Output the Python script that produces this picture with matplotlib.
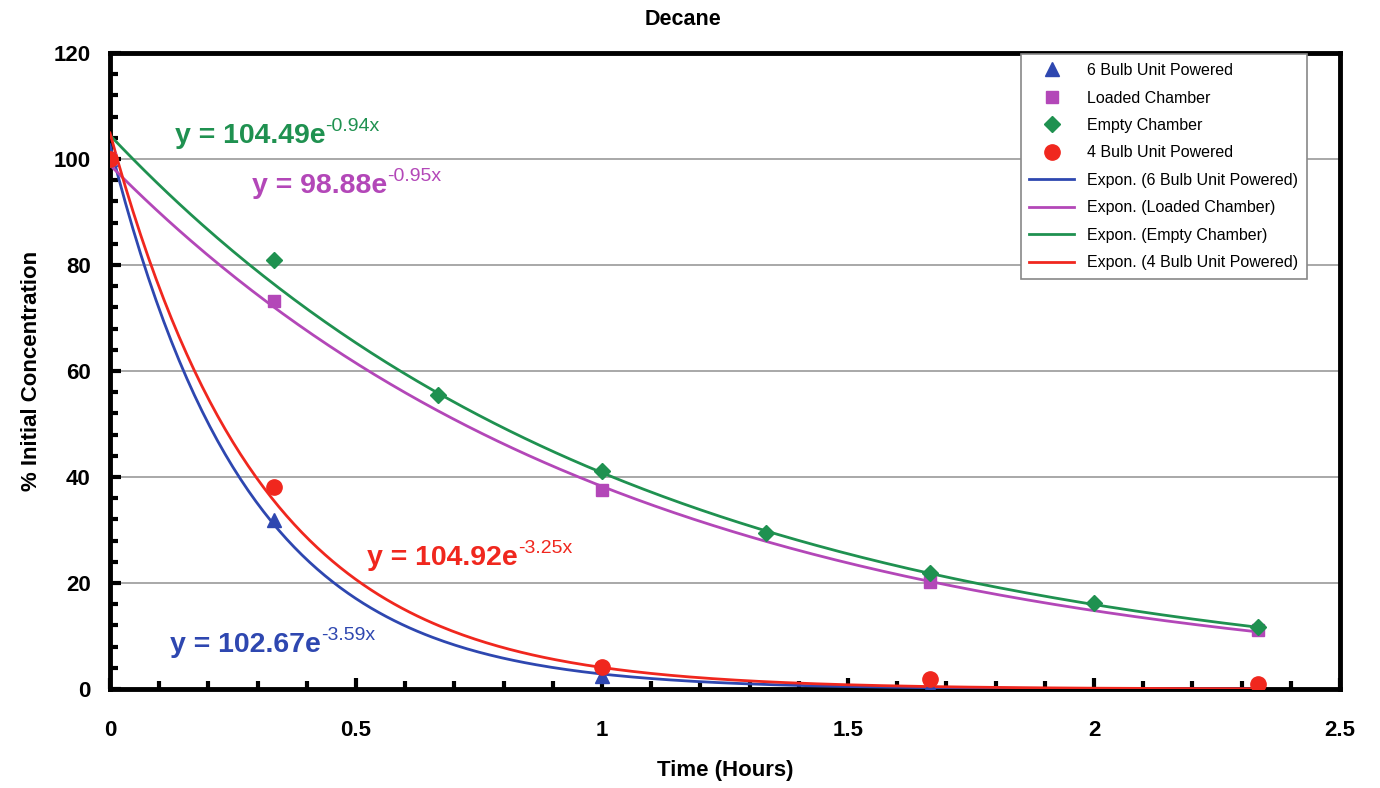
import numpy as np
import matplotlib
matplotlib.use('Agg')
import matplotlib.pyplot as plt
from matplotlib.ticker import MultipleLocator

plt.rcParams['font.family'] = ['Liberation Sans', 'DejaVu Sans']

# measured points (hours, % initial concentration)
bulb6_t = [0, 1/3, 1, 5/3, 7/3]
bulb6_c = [100, 31.9, 2.4, 0.3, 0.8]

loaded_t = [0, 1/3, 1, 5/3, 7/3]
loaded_c = [100, 73.2, 37.5, 20.2, 11.1]

empty_t = [0, 1/3, 2/3, 1, 4/3, 5/3, 2, 7/3]
empty_c = [100, 81.0, 55.5, 41.1, 29.4, 21.9, 16.2, 11.7]

bulb4_t = [0, 1/3, 1, 5/3, 7/3]
bulb4_c = [100, 38.1, 4.2, 1.9, 0.9]

# exponential trendline coefficients y = a * exp(b * x)
fit_a = [102.67, 98.88, 104.49, 104.92]
fit_b = [-3.59, -0.95, -0.94, -3.25]

BLUE   = '#2e47b0'
PURPLE = '#b347b8'
GREEN  = '#1f9150'
RED    = '#f0271e'

fig = plt.figure(figsize=(13.8, 7.88), dpi=100)
ax = fig.add_axes([0.0797, 0.1256, 0.8913, 0.8071])

ax.plot(bulb6_t, bulb6_c, '^', color=BLUE, ms=10, zorder=4, label='6 Bulb Unit Powered')
ax.plot(loaded_t, loaded_c, 's', color=PURPLE, ms=9, zorder=4, label='Loaded Chamber')
ax.plot(empty_t, empty_c, 'D', color=GREEN, ms=8, zorder=4, label='Empty Chamber')
ax.plot(bulb4_t, bulb4_c, 'o', color=RED, ms=11, zorder=4, label='4 Bulb Unit Powered')

xs = np.linspace(0, 7/3, 300)
names = ['6 Bulb Unit Powered', 'Loaded Chamber', 'Empty Chamber', '4 Bulb Unit Powered']
colors = [BLUE, PURPLE, GREEN, RED]
for a, b, name, col in zip(fit_a, fit_b, names, colors):
    ax.plot(xs, a * np.exp(b * xs), color=col, lw=2.0, zorder=3,
            label=f'Expon. ({name})')

# equation labels: bold base, lighter superscript
eq_pos = [(0.122, 7.0), (0.288, 93.6), (0.132, 103.0), (0.523, 23.4)]
for a, b, col, (x, y) in zip(fit_a, fit_b, colors, eq_pos):
    base = ax.text(x, y, f'y = {a:.2f}e', color=col, fontsize=20.5,
                   fontweight='bold', ha='left', va='baseline')
    ax.annotate(f'{b:.2f}x', xy=(1.0, 0.7), xycoords=base, color=col,
                fontsize=14, ha='left', va='baseline')

ax.set_xlim(0, 2.5)
ax.set_ylim(0, 120)
ax.xaxis.set_major_locator(MultipleLocator(0.5))
ax.xaxis.set_minor_locator(MultipleLocator(0.1))
ax.yaxis.set_major_locator(MultipleLocator(20))
ax.yaxis.set_minor_locator(MultipleLocator(4))
ax.set_xticks([0, 0.5, 1, 1.5, 2, 2.5])
ax.set_xticklabels(['0', '0.5', '1', '1.5', '2', '2.5'])
ax.tick_params(axis='both', which='major', direction='in', length=8, width=3,
               labelsize=16)
ax.tick_params(axis='both', which='minor', direction='in', length=6, width=3)
for lbl in ax.get_xticklabels() + ax.get_yticklabels():
    lbl.set_fontweight('bold')
ax.tick_params(axis='y', pad=14)
ax.tick_params(axis='x', pad=22)

ax.grid(True, axis='y', color='#9a9a9a', lw=1.2)
ax.set_axisbelow(True)
for sp in ax.spines.values():
    sp.set_linewidth(3.5)

fig.text(0.495, 0.988, 'Decane', fontsize=15.5, fontweight='bold', ha='center', va='top')
ax.set_xlabel('Time (Hours)', fontsize=16, fontweight='bold', labelpad=14)
ax.set_ylabel('% Initial Concentration', fontsize=16, fontweight='bold', labelpad=8)

leg = ax.legend(loc='upper right', bbox_to_anchor=(0.973, 0.998), fontsize=11.5,
                fancybox=False, framealpha=1, edgecolor='#888888',
                borderpad=0.55, labelspacing=0.78, handlelength=2.8,
                borderaxespad=0.0)
leg.get_frame().set_linewidth(1.2)

fig.savefig('out.png', dpi=100)
